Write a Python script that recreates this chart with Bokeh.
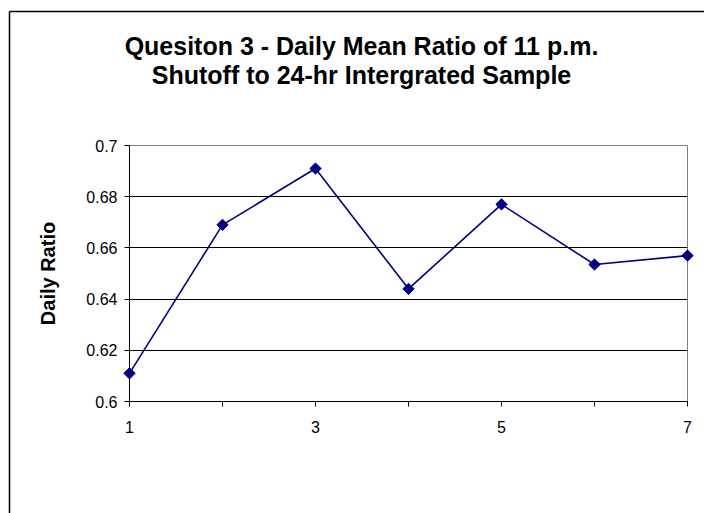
from bokeh.plotting import figure
from bokeh.models import ColumnDataSource, FixedTicker, Range1d
from bokeh.embed import file_html
from bokeh.resources import INLINE
from bokeh.core.properties import value

days = [1, 2, 3, 4, 5, 6, 7]
ratios = [0.611, 0.669, 0.691, 0.644, 0.677, 0.6535, 0.657]
y_ticks = [0.6, 0.62, 0.64, 0.66, 0.68, 0.7]
x_tick_labels = {1: "1", 2: "", 3: "3", 4: "", 5: "5", 6: "", 7: "7"}
title_lines = ["Quesiton 3 - Daily Mean Ratio of 11 p.m.", "Shutoff to 24-hr Intergrated Sample"]
y_label = "Daily Ratio"

W, H = 704, 513
FL, FR, FT, FB = 129, 687, 145, 401   # plot frame edges in page pixels
p = figure(width=W, height=H, output_backend="svg", toolbar_location=None,
           x_range=Range1d(1, 7), y_range=Range1d(0.6, 0.7),
           min_border_left=FL, min_border_right=W - FR,
           min_border_top=FT, min_border_bottom=H - FB)
p.title = None
p.background_fill_color = "white"
p.border_fill_color = "white"
p.outline_line_color = "#808080"
p.outline_line_width = 1

# pixel-space ranges for layout decorations (title, chart border)
p.extra_x_ranges = {"px": Range1d(FL, FR)}
p.extra_y_ranges = {"px": Range1d(H - FB, H - FT)}

FONT = "Liberation Sans"

p.xgrid.visible = False
p.ygrid.ticker = FixedTicker(ticks=y_ticks)
p.ygrid.grid_line_color = "#000000"
p.ygrid.grid_line_width = 1

p.xaxis.ticker = FixedTicker(ticks=days)
p.xaxis.major_label_overrides = x_tick_labels
p.yaxis.ticker = FixedTicker(ticks=y_ticks)
p.yaxis.major_label_overrides = {t: ("%g" % t) for t in y_ticks}
for ax in (p.xaxis[0], p.yaxis[0]):
    ax.axis_line_color = "#000000"
    ax.major_tick_line_color = "#000000"
    ax.major_tick_out = 5
    ax.major_tick_in = 0
    ax.minor_tick_line_color = None
    ax.major_label_text_font = FONT
    ax.major_label_text_font_size = "16px"
    ax.major_label_text_color = "#000000"
p.xaxis.major_label_standoff = 14
p.yaxis.major_label_standoff = 7
p.yaxis.axis_label = y_label
p.yaxis.axis_label_text_font = FONT
p.yaxis.axis_label_text_font_style = "bold"
p.yaxis.axis_label_text_font_size = "20px"
p.yaxis.axis_label_text_color = "#000000"
p.yaxis.axis_label_standoff = 24

src = ColumnDataSource(dict(x=days, y=ratios))
r1 = p.line("x", "y", source=src, line_color="#000080", line_width=1.6)
r2 = p.scatter("x", "y", source=src, marker="square", angle=0.7854, size=8,
               fill_color="#000080", line_color="#000080")
r1.level = "overlay"
r2.level = "overlay"

# outer chart border: left and top edges (the rest lies outside the window)
bx, by = 9, H - 11
rb = p.segment(x0=[bx, bx], y0=[by, by], x1=[W + 20, bx], y1=[by, -20],
               x_range_name="px", y_range_name="px",
               line_color="#000000", line_width=1.5)
rb.level = "overlay"

tl = p.text(x=[361, 361], y=[H - 45, H - 74], text=title_lines,
            x_range_name="px", y_range_name="px",
            text_align="center", text_baseline="middle",
            text_font=value(FONT), text_font_style="bold", text_font_size="25px",
            text_color="#000000")
tl.level = "overlay"

open("out.html", "w").write(file_html(p, INLINE))
